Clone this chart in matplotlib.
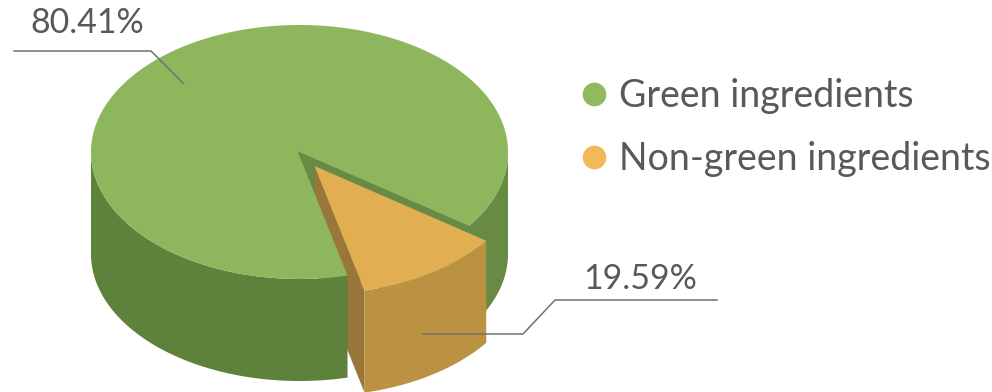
import numpy as np
import matplotlib
matplotlib.use("Agg")
import matplotlib.pyplot as plt
from matplotlib.lines import Line2D
from matplotlib.patches import Polygon

categories = ["Green ingredients", "Non-green ingredients"]
value_labels = ["80.41%", "19.59%"]
# share of the circle as actually drawn in the picture
drawn_shares = [88.56, 11.44]
start_angle = 35.5

GREEN_TOP, GREEN_FRONT, GREEN_RIGHT = "#8db65d", "#5e813c", "#678a45"
ORANGE_TOP, ORANGE_WALL, ORANGE_CUT = "#e1af52", "#ba9242", "#99763a"
LEG_GREEN, LEG_ORANGE = "#8fba5e", "#f2b85a"
TXT = "#595959"
LINE = "#707070"

CX, CY, RX, RY, DEPTH = 299.5, 152, 208.5, 127, 102
APEX = (-2, -1)
EXPLODE = (17, 15)

plt.rcParams["font.family"] = ["Lato", "DejaVu Sans"]
fig = plt.figure(figsize=(9.92, 3.92), dpi=100)
ax = fig.add_axes([0, 0, 1, 1])
ax.set_xlim(0, 992)
ax.set_ylim(392, 0)
ax.axis("off")


def rim(a0, a1, dx=0, dy=0):
    t = np.radians(np.linspace(a0, a1, 200))
    return np.column_stack([CX + dx + RX * np.cos(t), CY + dy + RY * np.sin(t)])


def wall(a0, a1, dx, dy, color, z):
    p = rim(a0, a1, dx, dy)
    q = p[::-1] + [0, DEPTH]
    ax.add_patch(Polygon(np.vstack([p, q]), closed=True, fc=color, ec="none", zorder=z))


def wedge(a0, a1, dx, dy, color, z):
    apex = np.array([[CX + APEX[0] + dx, CY + APEX[1] + dy]])
    ax.add_patch(Polygon(np.vstack([apex, rim(a0, a1, dx, dy)]), closed=True,
                         fc=color, ec="none", zorder=z))


sweep = 3.6 * drawn_shares[1]
o0, o1 = start_angle, start_angle + sweep
g0, g1 = o1, start_angle + 360

# inner cut of the green slice, seen behind the pulled-out slice
a = np.array([CX + APEX[0], CY + APEX[1]])
r = rim(o0, o0)[0]
ax.add_patch(Polygon([a, r, r + [0, DEPTH], a + [0, DEPTH]], closed=True,
                     fc=GREEN_RIGHT, ec=GREEN_RIGHT, lw=0.5, zorder=1))
# green outer walls
wall(0, o0 + 1, 0, 0, GREEN_RIGHT, 1)
wall(o1, 180, 0, 0, GREEN_FRONT, 3)
# orange cut face, partly hidden by the green slice
a2 = a + EXPLODE
r2 = rim(o1, o1, *EXPLODE)[0]
ax.add_patch(Polygon([a2, r2, r2 + [0, DEPTH], a2 + [0, DEPTH]], closed=True, fc=ORANGE_CUT, ec="none", zorder=2))
# tops and orange wall
wedge(g0, g1, 0, 0, GREEN_TOP, 4)
wall(o0, o1, *EXPLODE, ORANGE_WALL, 5)
wedge(o0, o1, *EXPLODE, ORANGE_TOP, 6)

# leader lines and value labels
ax.plot([14, 151, 183], [51, 51, 83], color=LINE, lw=1.1, zorder=7)
ax.plot([717, 555, 523, 423], [300, 300, 334, 334], color=LINE, lw=1.1, zorder=7)
ax.text(87, 23, value_labels[0], fontsize=24.5, color=TXT, ha="center", va="center")
ax.text(640, 279, value_labels[1], fontsize=24.5, color=TXT, ha="center", va="center")

handles = [Line2D([], [], ls="none", marker="o", ms=17, mfc=c, mec="none")
           for c in (LEG_GREEN, LEG_ORANGE)]
ax.legend(handles, categories, frameon=False, fontsize=27, labelcolor=TXT,
          loc="upper left", bbox_to_anchor=(575, 78), bbox_transform=ax.transData,
          borderpad=0, borderaxespad=0, handletextpad=0.18, handlelength=1.0, labelspacing=0.71)

fig.savefig("out.png", dpi=100)
